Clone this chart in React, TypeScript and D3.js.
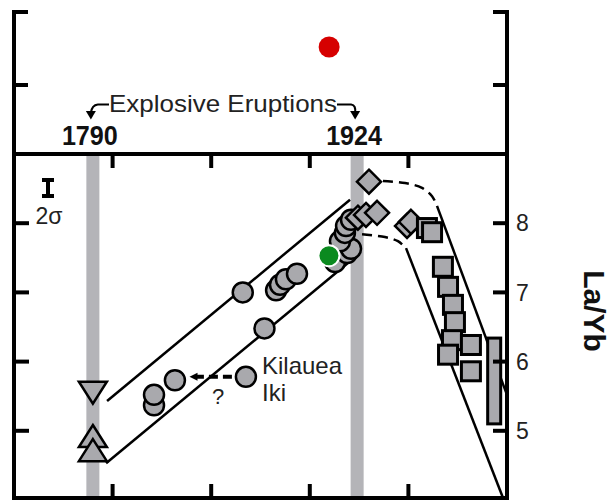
import React from "react";
import * as d3 from "d3";

const W = 611;
const H = 500;

// axes
const yearDomain = [1750, 2000];
const laybDomain = [4, 9];
const topDomain = [0, 2];
const yearTicks = [1800, 1850, 1900, 1950];
const laybTicks = [5, 6, 7, 8];
const topTicks = [1, 2];
const eruptionYears = [1790, 1924];
const eruptionLabels = ["1790", "1924"];

// circles (gray)
const circleYear = [1821.0, 1821.0, 1831.6, 1866.0, 1877.0, 1882.9, 1884.9, 1887.9, 1893.5, 1867.6,
  1912.8, 1918.9, 1920.9, 1915.3, 1917.8, 1918.4, 1920.9];
const circleLaYb = [5.37, 5.52, 5.73, 7.0, 6.48, 7.03, 7.11, 7.19, 7.27, 5.78,
  7.44, 7.57, 7.63, 7.74, 7.86, 7.96, 8.05];

// green circle (bottom) and red circle (top panel)
const greenYear = [1909.7];
const greenLaYb = [7.53];
const redYear = [1909.8];
const redValue = [1.52];

// triangles at 1790
const triDownYear = [1790];
const triDownLaYb = [5.55];
const triUpYear = [1790, 1790];
const triUpLaYb = [4.925, 4.72];

// diamonds
const diamondYear = [1930.0, 1924.4, 1928.5, 1934.1, 1949.3, 1951.3];
const diamondLaYb = [8.6, 8.08, 8.12, 8.15, 7.96, 8.02];

// squares
const squareYear = [1959.4, 1962.0, 1967.5, 1970.1, 1972.6, 1973.6, 1972.1, 1970.1, 1981.7, 1981.7];
const squareLaYb = [7.93, 7.87, 7.37, 7.08, 6.82, 6.57, 6.31, 6.1, 6.24, 5.86];

// range bar
const rangeYear = [1993.5];
const rangeLaYbLow = [5.1];
const rangeLaYbHigh = [6.34];

// envelope lines
const upperEnvYear = [1797.2, 1920.4];
const upperEnvLaYb = [5.43, 8.34];
const lowerEnvYear = [1796.7, 1920.4];
const lowerEnvLaYb = [4.53, 7.45];
const outerYear = [1964.5, 2000];
const outerLaYb = [8.25, 5.52];
const innerYear = [1948.8, 1998.0];
const innerLaYb = [7.64, 4.03];
const dashUpYear = [1937.1, 1948.3, 1956.9, 1962.0, 1964.5];
const dashUpLaYb = [8.61, 8.58, 8.51, 8.39, 8.25];
const dashLowYear = [1926.5, 1938.1, 1944.7, 1948.8];
const dashLowLaYb = [7.84, 7.8, 7.74, 7.64];

// Kilauea Iki arrow
const kiArrowYear = [1860.5, 1839.5];
const kiArrowLaYb = [5.78, 5.78];

const FONT = "'Liberation Sans', Arial, Helvetica, sans-serif";
const GRAY = "#a9a9ad";
const BAND = "#b4b4b8";

export default function App() {
  const x = d3.scaleLinear().domain(yearDomain).range([14, 507]);
  const y = d3.scaleLinear().domain(laybDomain).range([500, 154]);
  const yt = d3.scaleLinear().domain(topDomain).range([158, 12]);

  const left = x(yearDomain[0]);
  const right = x(yearDomain[1]);
  const panelTop = 154;
  const bottom = 498;
  const topTop = 10;

  const line = d3.line<[number, number]>().x((d) => x(d[0])).y((d) => y(d[1]));
  const curve = d3
    .line<[number, number]>()
    .x((d) => x(d[0]))
    .y((d) => y(d[1]))
    .curve(d3.curveCatmullRom.alpha(0.5));

  const zip = (a: number[], b: number[]) => a.map((v, i) => [v, b[i]] as [number, number]);

  const bandHalf = 3.3;
  const triW = 14;
  const triH = 11;
  const dia = 12;
  const sq = 9.5;

  const xL = x(eruptionYears[0]);
  const xR = x(eruptionYears[1]);

  return (
    <svg
      width={W}
      height={H}
      style={{ position: "absolute", left: 0, top: 0, background: "#fff" }}
      fontFamily={FONT}
    >
      <rect x={0} y={0} width={W} height={H} fill="#fff" />
      {/* eruption bands */}
      {eruptionYears.map((yr, i) => (
        <rect
          key={"band" + i}
          x={x(yr - bandHalf)}
          y={panelTop}
          width={x(yr + bandHalf) - x(yr - bandHalf)}
          height={H - panelTop}
          fill={BAND}
        />
      ))}

      {/* envelope lines */}
      <g fill="none" stroke="#000" strokeWidth={2.5}>
        <path d={line(zip(upperEnvYear, upperEnvLaYb)) || ""} />
        <path d={line(zip(lowerEnvYear, lowerEnvLaYb)) || ""} />
        <path d={line(zip(outerYear, outerLaYb)) || ""} />
        <path d={line(zip(innerYear, innerLaYb)) || ""} />
        <path d={curve(zip(dashUpYear, dashUpLaYb)) || ""} strokeDasharray="10 6" />
        <path d={curve(zip(dashLowYear, dashLowLaYb)) || ""} strokeDasharray="10 6" />
      </g>

      {/* triangles */}
      <g fill={GRAY} stroke="#000" strokeWidth={2.5} strokeLinejoin="miter">
        {triUpYear.map((yr, i) => {
          const cx = x(yr);
          const cy = y(triUpLaYb[i]);
          return (
            <path
              key={"tu" + i}
              d={`M${cx},${cy - triH}L${cx + triW},${cy + triH}L${cx - triW},${cy + triH}Z`}
            />
          );
        })}
        {triDownYear.map((yr, i) => {
          const cx = x(yr);
          const cy = y(triDownLaYb[i]);
          return (
            <path
              key={"td" + i}
              d={`M${cx - triW},${cy - triH}L${cx + triW},${cy - triH}L${cx},${cy + triH}Z`}
            />
          );
        })}
      </g>

      {/* circles */}
      <g fill={GRAY} stroke="#000" strokeWidth={2.5}>
        {circleYear.map((yr, i) => (
          <circle key={"c" + i} cx={x(yr)} cy={y(circleLaYb[i])} r={10} />
        ))}
      </g>
      {greenYear.map((yr, i) => (
        <circle key={"g" + i} cx={x(yr)} cy={y(greenLaYb[i])} r={10.5} fill="#0b8a1f" stroke="#fff" strokeWidth={2} />
      ))}

      {/* diamonds */}
      <g fill={GRAY} stroke="#000" strokeWidth={2.5}>
        {diamondYear.map((yr, i) => {
          const cx = x(yr);
          const cy = y(diamondLaYb[i]);
          return (
            <path
              key={"d" + i}
              d={`M${cx},${cy - dia}L${cx + dia},${cy}L${cx},${cy + dia}L${cx - dia},${cy}Z`}
            />
          );
        })}
      </g>

      {/* squares */}
      <g fill={GRAY} stroke="#000" strokeWidth={3}>
        {squareYear.map((yr, i) => (
          <rect key={"s" + i} x={x(yr) - sq} y={y(squareLaYb[i]) - sq} width={2 * sq} height={2 * sq} />
        ))}
        {rangeYear.map((yr, i) => (
          <rect
            key={"r" + i}
            x={x(yr - 3.3)}
            y={y(rangeLaYbHigh[i])}
            width={x(yr + 3.3) - x(yr - 3.3)}
            height={y(rangeLaYbLow[i]) - y(rangeLaYbHigh[i])}
          />
        ))}
      </g>

      {/* Kilauea Iki arrow */}
      <path
        d={line(zip(kiArrowYear, kiArrowLaYb)) || ""}
        fill="none"
        stroke="#000"
        strokeWidth={4}
        strokeDasharray="9 5"
      />
      <path
        d={`M${x(kiArrowYear[1]) - 1},${y(kiArrowLaYb[1])}l8,-4l0,8Z`}
        fill="#000"
      />
      <text x={218} y={404} fontSize={22} textAnchor="middle" fill="#222">?</text>
      <text x={262} y={374} fontSize={24} fill="#222">Kilauea</text>
      <text x={262} y={401} fontSize={24} fill="#222">Iki</text>

      {/* 2 sigma */}
      <g stroke="#000" strokeWidth={4}>
        <line x1={48} x2={48} y1={179} y2={197} />
        <line x1={42} x2={54} y1={180} y2={180} />
        <line x1={42} x2={54} y1={196} y2={196} />
      </g>
      <text x={49} y={224} fontSize={23} textAnchor="middle" fill="#222">2σ</text>

      {/* red dot top panel */}
      {redYear.map((yr, i) => (
        <circle key={"red" + i} cx={x(yr)} cy={yt(redValue[i])} r={10.5} fill="#d60000" />
      ))}

      {/* explosive eruptions annotation */}
      <text x={109} y={112} fontSize={24} textLength={228} lengthAdjust="spacingAndGlyphs" fill="#222">
        Explosive Eruptions
      </text>
      <g fill="none" stroke="#000" strokeWidth={2.2}>
        <path d={`M109,104.5L${xL + 5},104.5Q${xL - 1},105 ${xL - 2},113`} />
        <path d={`M337,104.5L${xR - 6},104.5Q${xR - 1},105 ${xR - 2},113`} />
      </g>
      <path d={`M${xL - 7},111L${xL + 3},111L${xL - 2},119.5Z`} fill="#000" />
      <path d={`M${xR - 7},111L${xR + 3},111L${xR - 2},119.5Z`} fill="#000" />
      {eruptionYears.map((yr, i) => (
        <text
          key={"el" + i}
          x={x(yr) - 3}
          y={145}
          fontSize={27}
          fontWeight="bold"
          textAnchor="middle"
          textLength={56}
          lengthAdjust="spacingAndGlyphs"
          fill="#111"
        >
          {eruptionLabels[i]}
        </text>
      ))}

      {/* axes */}
      <g stroke="#000" strokeWidth={4} fill="none">
        <line x1={left} x2={left} y1={topTop} y2={H} />
        <line x1={right} x2={right} y1={topTop} y2={H} />
        <line x1={left - 2} x2={right + 2} y1={panelTop} y2={panelTop} />
        <line x1={left - 2} x2={right + 2} y1={bottom} y2={bottom} />
        {topTicks.map((t) => (
          <g key={"tt" + t}>
            <line x1={left} x2={left + 14} y1={yt(t)} y2={yt(t)} />
            <line x1={right} x2={right - 14} y1={yt(t)} y2={yt(t)} />
          </g>
        ))}
        {yearTicks.map((t) => (
          <g key={"yt" + t}>
            <line x1={x(t)} x2={x(t)} y1={panelTop} y2={panelTop + 14} />
            <line x1={x(t)} x2={x(t)} y1={bottom} y2={bottom - 14} />
          </g>
        ))}
        {laybTicks.map((t) => (
          <g key={"lt" + t}>
            <line x1={left} x2={left + 15} y1={y(t)} y2={y(t)} />
            <line x1={right} x2={right - 14} y1={y(t)} y2={y(t)} />
          </g>
        ))}
      </g>
      {laybTicks.map((t) => (
        <text key={"ll" + t} x={516} y={y(t)} dy="0.36em" fontSize={23} fill="#222">
          {t}
        </text>
      ))}
      <text
        transform={`translate(584, ${y(6.73)}) rotate(90)`}
        fontSize={30}
        fontWeight="bold"
        textAnchor="middle"
        fill="#111"
      >
        La/Yb
      </text>
    </svg>
  );
}
